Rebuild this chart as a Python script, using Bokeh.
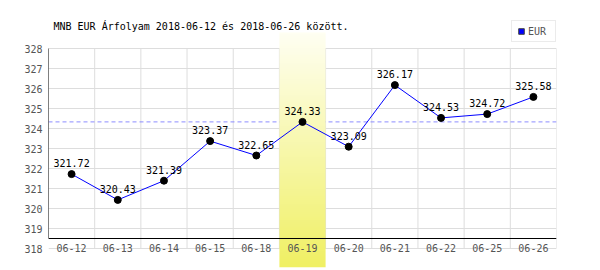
import numpy as np
from bokeh.plotting import figure
from bokeh.models import FixedTicker, Range1d, Span, Legend, LegendItem, ColumnDataSource
from bokeh.core.properties import value
from bokeh.embed import file_html
from bokeh.resources import INLINE

# ---- data ----
dates = ["06-12", "06-13", "06-14", "06-15", "06-18", "06-19",
         "06-20", "06-21", "06-22", "06-25", "06-26"]
rates = [321.72, 320.43, 321.39, 323.37, 322.65, 324.33,
         323.09, 326.17, 324.53, 324.72, 325.58]
highlight = "06-19"
y_ticks = [318, 319, 320, 321, 322, 323, 324, 325, 326, 327, 328]
series_name = "EUR"
title_text = "MNB EUR Árfolyam 2018-06-12 és 2018-06-26 között."

# ---- style ----
FONT = "DejaVu Sans Mono"
GRID = "#dddddd"
TICK_COLOR = "#555555"

n = len(dates)
xs = list(range(n))
hi = dates.index(highlight)
y_lo, y_hi = 317.05, 329.4
band_top = 328.8
axis_y = y_ticks[0] + 0.5

p = figure(width=600, height=270, output_backend="svg", toolbar_location=None,
           x_range=Range1d(-0.5, n - 0.5), y_range=Range1d(y_lo, y_hi),
           min_border_left=48, min_border_right=44, min_border_top=20,
           min_border_bottom=3)
p.outline_line_color = None
p.background_fill_color = "white"
p.border_fill_color = "white"

# title
p.title.text = title_text
p.title.text_font = FONT
p.title.text_font_size = "10px"
p.title.text_font_style = "normal"
p.title.text_color = "black"
p.title.align = "left"
p.title.offset = 5
p.title.standoff = -22

# grids
p.xgrid.visible = False
p.ygrid.ticker = FixedTicker(ticks=y_ticks)
p.ygrid.grid_line_color = GRID
p.ygrid.grid_line_width = 1

# y axis
p.yaxis.ticker = FixedTicker(ticks=y_ticks)
p.yaxis.axis_line_color = None
p.yaxis.major_tick_line_color = None
p.yaxis.minor_tick_line_color = None
p.yaxis.major_tick_out = 0
p.yaxis.major_label_standoff = 6
p.yaxis.major_label_text_font = FONT
p.yaxis.major_label_text_font_size = "10px"
p.yaxis.major_label_text_color = TICK_COLOR

# x axis
p.xaxis.ticker = FixedTicker(ticks=xs)
p.xaxis.major_label_overrides = {i: d for i, d in enumerate(dates)}
p.xaxis.axis_line_color = None
p.xaxis.major_tick_line_color = None
p.xaxis.minor_tick_line_color = None
p.xaxis.major_tick_out = 0
p.xaxis.major_tick_in = 0
p.xaxis.major_label_standoff = -24
p.xaxis.major_label_text_font = FONT
p.xaxis.major_label_text_font_size = "10px"
p.xaxis.major_label_text_color = TICK_COLOR

# vertical grid segments (category boundaries)
bounds = [i + 0.5 for i in xs]
p.segment(x0=bounds, y0=[y_ticks[0]] * n, x1=bounds, y1=[y_ticks[-1]] * n,
          line_color=GRID, line_width=1, level="underlay")

# dashed reference line at highlighted value
p.add_layout(Span(location=rates[hi], dimension="width", line_color="#8c8cff",
                  line_dash="4 3", line_width=1, level="underlay"))

# highlighted band (vertical gradient)
H = 120
t = np.linspace(0.0, 1.0, H)[:, None]  # 0 bottom -> 1 top
bottom_c = np.array([240, 240, 100])
top_c = np.array([255, 255, 242])
cols = (bottom_c + (top_c - bottom_c) * t).astype(np.uint8)
img = np.empty((H, 1), dtype=np.uint32)
view = img.view(dtype=np.uint8).reshape((H, 1, 4))
view[:, 0, 0] = cols[:, 0]
view[:, 0, 1] = cols[:, 1]
view[:, 0, 2] = cols[:, 2]
view[:, 0, 3] = 255
p.image_rgba(image=[img], x=hi - 0.5, y=y_lo, dw=1, dh=band_top - y_lo)

# axis lines
p.segment(x0=[-0.5, -0.5], y0=[axis_y, axis_y], x1=[n - 0.5, -0.5],
          y1=[axis_y, y_ticks[-1]], line_color="black", line_width=1)

# series
src = ColumnDataSource(dict(x=xs, y=rates, lbl=[f"{r:.2f}" for r in rates]))
p.line("x", "y", source=src, line_color="#0000ff", line_width=1)
p.scatter("x", "y", source=src, size=7, fill_color="black", line_color="black")
p.text("x", "y", text="lbl", source=src, text_align="center",
       text_baseline="alphabetic", y_offset=-11, text_font=value(FONT),
       text_font_size="10px", text_color="black")

# legend swatch renderer (not drawn in plot)
sw = p.scatter("x", "y", source=src, marker="square", size=0,
               fill_color="#0000ff", line_color="#444444", line_width=1)

legend = Legend(items=[LegendItem(label=series_name, renderers=[sw])],
                location=(463, 225), orientation="vertical",
                border_line_color="#d8d8d8", border_line_width=1,
                background_fill_color="white", background_fill_alpha=1,
                padding=2, spacing=0, margin=0,
                glyph_width=14, glyph_height=16, label_standoff=-2,
                label_width=25, label_height=16,
                label_text_font=FONT, label_text_font_size="10px",
                label_text_color=TICK_COLOR)
p.add_layout(legend)

open("out.html", "w").write(file_html(p, INLINE))
